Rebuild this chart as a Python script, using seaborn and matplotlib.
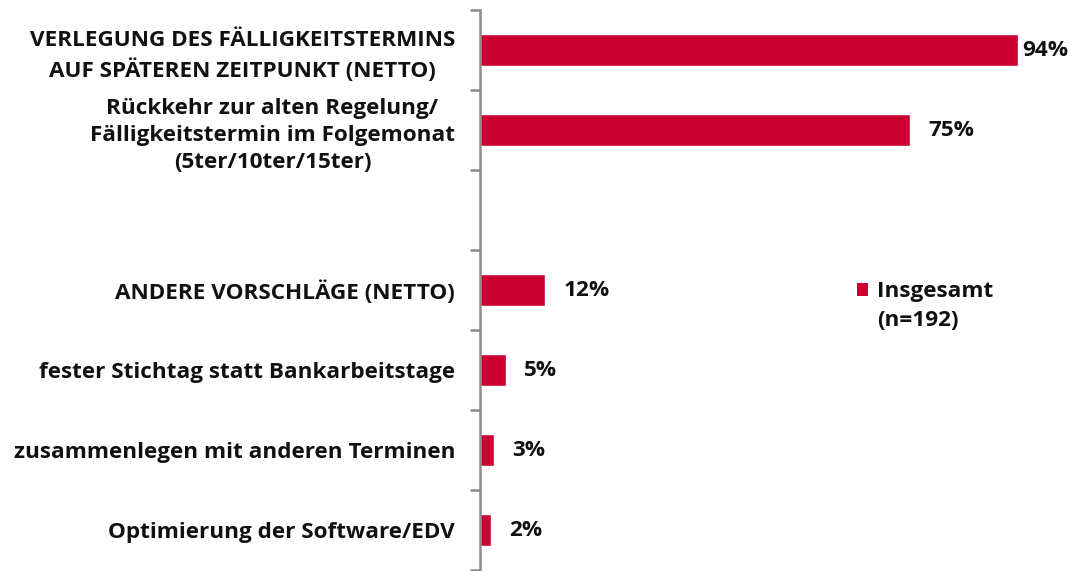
import matplotlib
matplotlib.use("Agg")
import matplotlib.pyplot as plt
import seaborn as sns
import pandas as pd
from matplotlib.ticker import FixedLocator
from matplotlib.patches import Patch

categories = [
    "VERLEGUNG DES FÄLLIGKEITSTERMINS\nAUF SPÄTEREN ZEITPUNKT (NETTO)",
    "Rückkehr zur alten Regelung/\nFälligkeitstermin im Folgemonat\n(5ter/10ter/15ter)",
    " ",
    "ANDERE VORSCHLÄGE (NETTO)",
    "fester Stichtag statt Bankarbeitstage",
    "zusammenlegen mit anderen Terminen",
    "Optimierung der Software/EDV",
]
data_categories = [categories[i] for i in (0, 1, 3, 4, 5, 6)]
values = [94.0, 75.2, 11.4, 4.6, 2.5, 2.0]
value_labels = ["94%", "75%", "12%", "5%", "3%", "2%"]
series_name = "Insgesamt"
series_note = "(n=192)"

RED = "#CC0033"
TXT = "#111111"
sns.set_theme(style="white")
plt.rcParams["font.family"] = ["Open Sans", "DejaVu Sans"]
FS = 16.2
FW = "bold"

df = pd.DataFrame({"cat": data_categories, "val": values})

fig = plt.figure(figsize=(10.84, 5.71), dpi=100)
ax = fig.add_axes([480 / 1084, 1 / 571, 1 - 480 / 1084, 560 / 571])

sns.barplot(data=df, x="val", y="cat", order=categories, color=RED,
            saturation=1, width=0.39, ax=ax, orient="h")

ax.set_xlim(0, 105.6)
ax.set_ylim(len(categories) - 0.5, -0.5)
ax.set_xlabel("")
ax.set_ylabel("")
ax.set_xticks([])

for s in ["top", "right", "bottom"]:
    ax.spines[s].set_visible(False)
ax.spines["left"].set_color("#8C8C8C")
ax.spines["left"].set_linewidth(1.8)

n = len(categories)
ax.yaxis.set_major_locator(FixedLocator([i - 0.5 for i in range(n + 1)]))
ax.set_yticklabels([""] * (n + 1))
ax.set_yticks(list(range(n)), labels=categories, minor=True)
ax.tick_params(axis="y", which="major", left=True, length=7, width=1.8,
               color="#8C8C8C")
ax.tick_params(axis="y", which="minor", left=False, length=0, pad=18,
               labelsize=FS)
for lab in ax.get_yticklabels(minor=True):
    lab.set_multialignment("center")
    lab.set_fontweight(FW)
    lab.set_color(TXT)
    lab.set_linespacing(1.38)

pos = [0, 1, 3, 4, 5, 6]
for p, v, t in zip(pos, values, value_labels):
    off = 3 if v > 90 else 13
    ax.annotate(t, xy=(v, p), xytext=(off, 0), textcoords="offset points",
                va="center", ha="left", fontsize=FS, fontweight=FW,
                color=TXT, annotation_clip=False)

handle = Patch(facecolor=RED, edgecolor="none")
leg = ax.legend([handle], [series_name], loc="center left",
                bbox_to_anchor=(857 / 1084, 1 - 292 / 571),
                bbox_transform=fig.transFigure, frameon=False,
                handlelength=0.5, handleheight=0.5, handletextpad=0.4,
                borderaxespad=0, borderpad=0,
                prop={"size": FS, "weight": FW})
for t in leg.get_texts():
    t.set_color(TXT)
fig.text(877 / 1084, 1 - 321 / 571, series_note, ha="left", va="center",
         fontsize=FS, fontweight=FW, color=TXT)

fig.savefig("out.png", dpi=100)
